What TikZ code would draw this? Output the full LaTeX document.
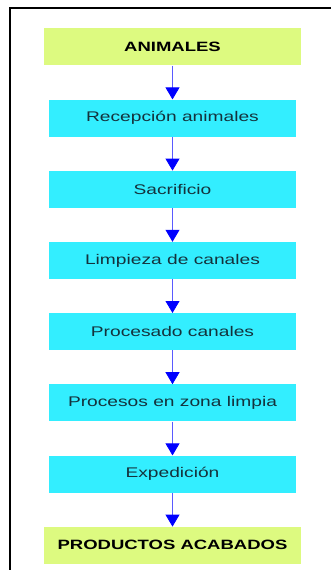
\documentclass[tikz,border=0pt]{standalone}
\usepackage{fontspec}
\setmainfont{Liberation Sans}[FakeStretch=1.37]
\usetikzlibrary{arrows.meta}

\definecolor{endfill}{RGB}{221,250,128}
\definecolor{stepfill}{RGB}{51,238,255}
\definecolor{steptext}{RGB}{20,50,60}
\definecolor{linkblue}{RGB}{90,90,255}

\begin{document}
\begin{tikzpicture}[
  x=1pt,y=-1pt,
  every matrix/.style={ampersand replacement=\&,row sep=34pt,inner sep=0pt},
  ends/.style={fill=endfill,minimum width=257pt,minimum height=37pt,inner sep=0pt,
    font=\fontsize{13.5}{15}\selectfont\bfseries},
  stage/.style={fill=stepfill,minimum width=246pt,minimum height=37pt,inner sep=0pt,
    text=steptext,font=\fontsize{14}{16}\selectfont},
  to/.style={draw=linkblue,line width=0.8pt,-{Triangle[width=14pt,length=12pt,color=blue]}}]

  \useasboundingbox (0,0) rectangle (331,570);

  % frame of the page, only its left and top edges show
  \draw[line width=2pt] (10,571) -- (10,7.5) -- (332,7.5);

  % Position the stages in one column
  \matrix[anchor=north] at (172.5,28) {
     \node[ends] (in) {ANIMALES}; \\
     \node[stage] (s1) {Recepción animales}; \\
     \node[stage] (s2) {Sacrificio}; \\
     \node[stage] (s3) {Limpieza de canales}; \\
     \node[stage] (s4) {Procesado canales}; \\
     \node[stage] (s5) {Procesos en zona limpia}; \\
     \node[stage] (s6) {Expedición}; \\
     \node[ends] (out) {PRODUCTOS ACABADOS}; \\
  };

  % Draw the arrows between the stages
  \draw[to] (in) -- (s1);
  \draw[to] (s1) -- (s2);
  \draw[to] (s2) -- (s3);
  \draw[to] (s3) -- (s4);
  \draw[to] (s4) -- (s5);
  \draw[to] (s5) -- (s6);
  \draw[to] (s6) -- (out);

\end{tikzpicture}
\end{document}
